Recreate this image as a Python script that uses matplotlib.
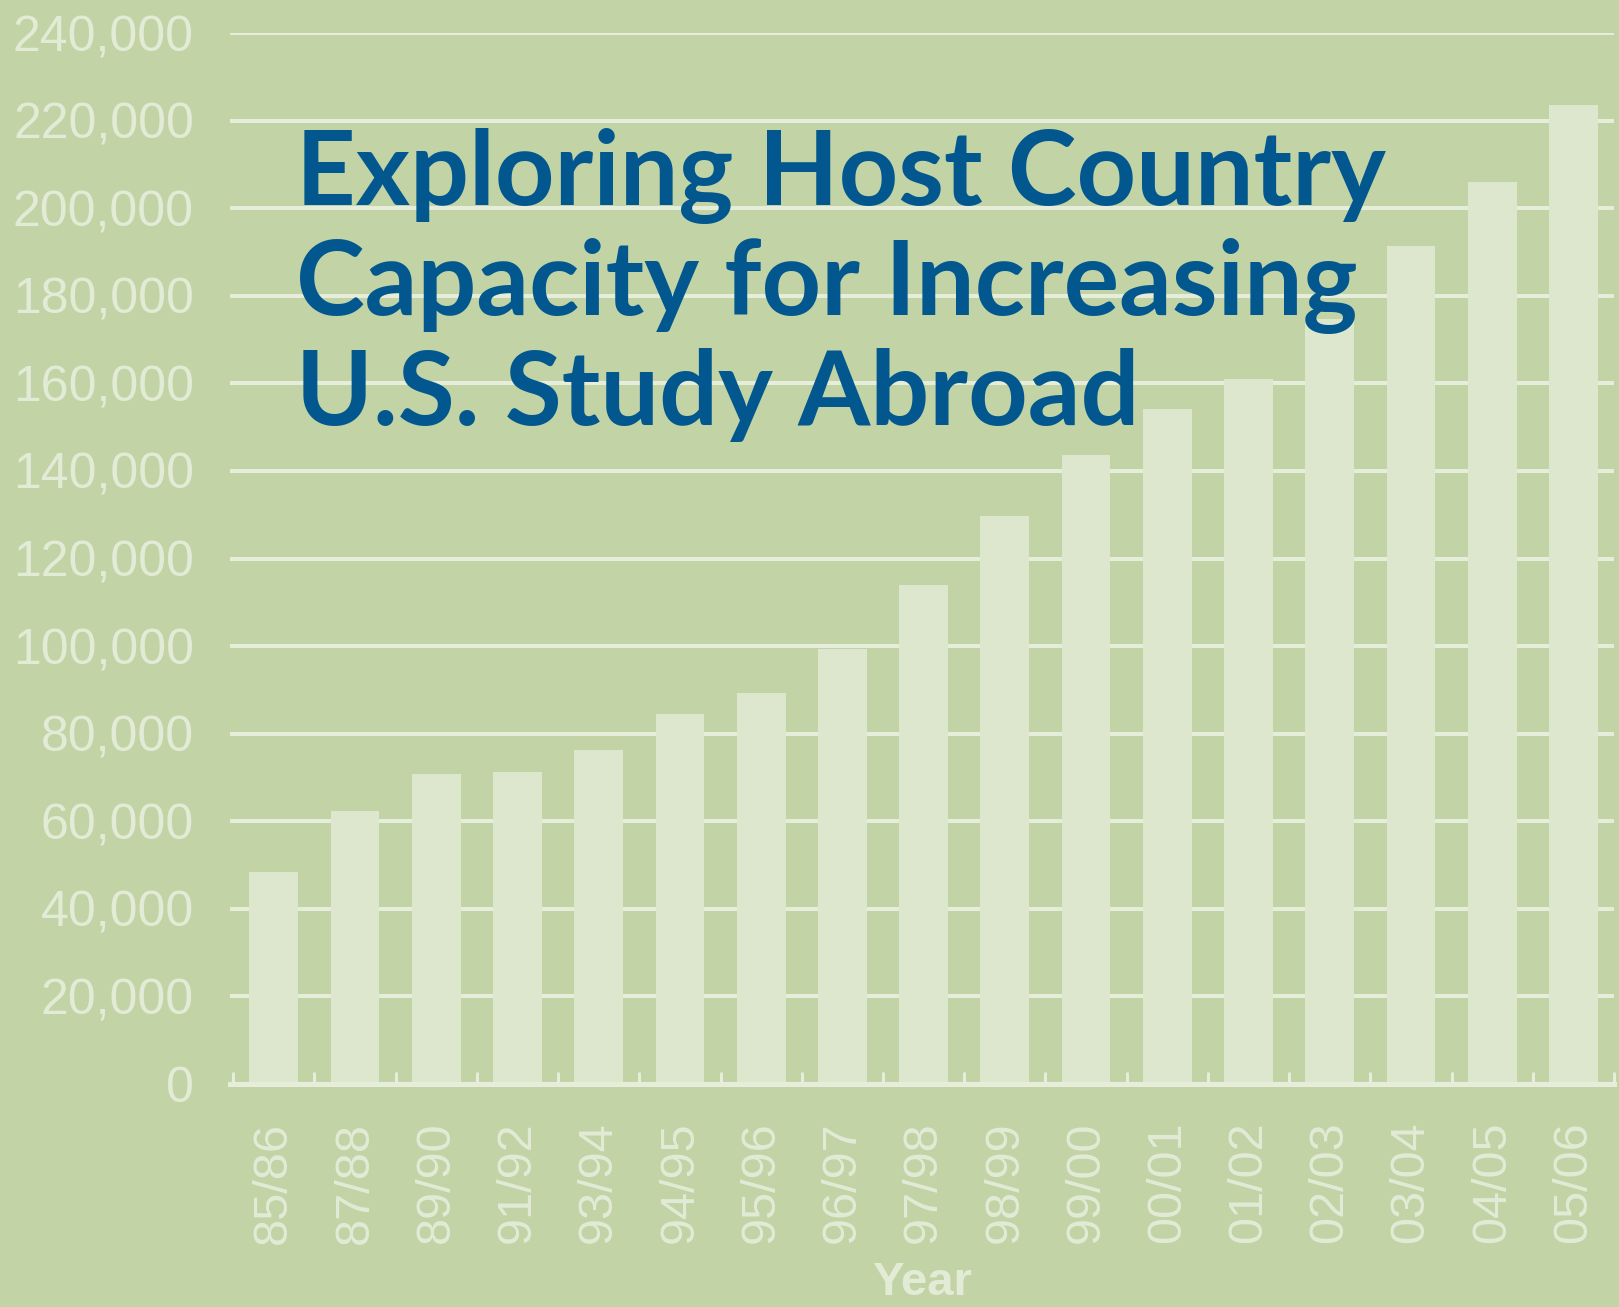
import numpy as np
import matplotlib.pyplot as plt
from matplotlib.ticker import FuncFormatter

# Study abroad totals by academic year
years = ["85/86", "87/88", "89/90", "91/92", "93/94", "94/95", "95/96", "96/97",
         "97/98", "98/99", "99/00", "00/01", "01/02", "02/03", "03/04", "04/05", "05/06"]
students = [48483, 62341, 70727, 71154, 76302, 84403, 89242, 99448,
            113959, 129770, 143590, 154168, 160920, 174629, 191321, 205983, 223534]
y_ticks = list(range(0, 240001, 20000))
title_lines = ["Exploring Host Country", "Capacity for Increasing", "U.S. Study Abroad"]

bg = "#c2d3a6"
bar_col = "#dde7cd"
light = "#e6eedb"
txt_col = "#e2ebd5"
title_col = "#02588e"

W, H = 1619, 1307
fig = plt.figure(figsize=(W / 100, H / 100), dpi=100, facecolor=bg)
ax = fig.add_axes([230 / W, 1 - 1084 / H, (1614 - 230) / W, (1084 - 33) / H])
ax.set_facecolor(bg)

x = np.arange(len(years))
ax.bar(x, students, width=0.6, color=bar_col, zorder=2)

ax.set_xlim(-0.54, len(years) - 0.5)
ax.set_ylim(0, 240000)
ax.set_yticks(y_ticks)
ax.yaxis.set_major_formatter(FuncFormatter(lambda v, p: f"{int(v):,}"))
ax.yaxis.grid(True, color=light, linewidth=2.9, zorder=0)
ax.set_axisbelow(True)

for s in ["left", "right", "top"]:
    ax.spines[s].set_visible(False)
ax.spines["bottom"].set_color(light)
ax.spines["bottom"].set_linewidth(3.6)
ax.spines["bottom"].set_zorder(3)

ax.set_xticks(x)
ax.set_xticklabels(years, rotation=90, va="top", ha="center")
ax.set_xticks(np.arange(-0.5, len(years)), minor=True)
ax.tick_params(axis="x", which="both", direction="in", length=8.6, width=2.2,
               color=light, labelsize=35, labelcolor=txt_col, pad=27)
ax.tick_params(axis="y", length=0, labelsize=36, labelcolor=txt_col, pad=26)
for lab in ax.get_xticklabels() + ax.get_yticklabels():
    lab.set_family("Liberation Sans")

ax.set_xlabel("Year", fontsize=34, fontweight="bold", color=txt_col,
              family="Liberation Sans", va="top")
ax.xaxis.set_label_coords(0.5, -0.168)

baselines = [205, 315, 425]
for line, b in zip(title_lines, baselines):
    fig.text(296 / W, 1 - b / H, line, fontsize=74.8, fontweight="bold",
             family="Lato", color=title_col, ha="left", va="baseline")

fig.savefig("out.png", dpi=100, facecolor=bg)
